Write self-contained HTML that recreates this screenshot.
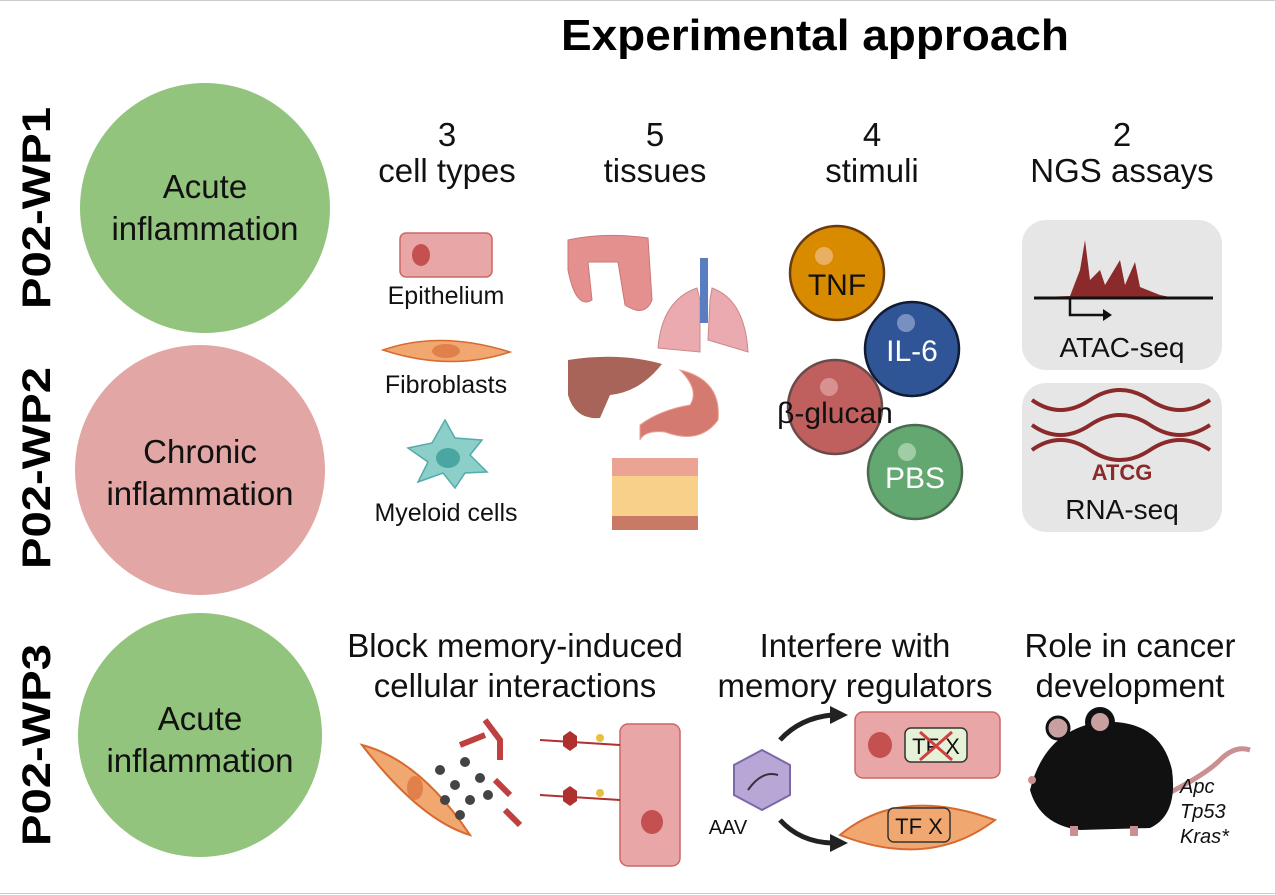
<!DOCTYPE html>
<html><head><meta charset="utf-8"><style>
html,body{margin:0;padding:0;background:#fff;}
svg{display:block;font-family:"Liberation Sans",sans-serif;}
</style></head><body>
<svg width="1275" height="895" viewBox="0 0 1275 895" xmlns="http://www.w3.org/2000/svg">
<line x1="0" y1="0.5" x2="1275" y2="0.5" stroke="#ccc"/>
<line x1="0" y1="893.5" x2="1275" y2="893.5" stroke="#ccc"/>
<text x="815" y="50" font-size="44" font-weight="bold" text-anchor="middle" fill="#000" textLength="508" lengthAdjust="spacingAndGlyphs">Experimental approach</text>
<g font-size="40" font-weight="bold" text-anchor="middle" fill="#000">
<text transform="translate(50,208) rotate(-90)" textLength="202" lengthAdjust="spacingAndGlyphs">P02-WP1</text>
<text transform="translate(50,468) rotate(-90)" textLength="202" lengthAdjust="spacingAndGlyphs">P02-WP2</text>
<text transform="translate(50,745) rotate(-90)" textLength="202" lengthAdjust="spacingAndGlyphs">P02-WP3</text>
</g>
<circle cx="205" cy="208" r="125" fill="#93c47d"/>
<circle cx="200" cy="470" r="125" fill="#e2a6a4"/>
<circle cx="200" cy="735" r="122" fill="#93c47d"/>
<g font-size="33" text-anchor="middle" fill="#111">
<text x="205" y="198">Acute</text><text x="205" y="240">inflammation</text>
<text x="200" y="463">Chronic</text><text x="200" y="505">inflammation</text>
<text x="200" y="730">Acute</text><text x="200" y="772">inflammation</text>
</g>
<g font-size="33" text-anchor="middle" fill="#111">
<text x="447" y="146">3</text><text x="447" y="182">cell types</text>
<text x="655" y="146">5</text><text x="655" y="182">tissues</text>
<text x="872" y="146">4</text><text x="872" y="182">stimuli</text>
<text x="1122" y="146">2</text><text x="1122" y="182">NGS assays</text>
<text x="515" y="657">Block memory-induced</text><text x="515" y="697">cellular interactions</text>
<text x="855" y="657">Interfere with</text><text x="855" y="697">memory regulators</text>
<text x="1130" y="657">Role in cancer</text><text x="1130" y="697">development</text>
</g>
<!-- cells -->
<rect x="400" y="233" width="92" height="44" rx="6" fill="#e8a6a6" stroke="#c66" stroke-width="1.5"/>
<ellipse cx="421" cy="255" rx="9" ry="11" fill="#c55050"/>
<path d="M383 350 Q440 330 510 352 Q450 372 383 350Z" fill="#f0a870" stroke="#d86a30" stroke-width="1.5"/>
<ellipse cx="446" cy="351" rx="14" ry="7" fill="#e0804a"/>
<g fill="#8ccfc8" stroke="#5aa" stroke-width="1.5">
<path d="M445 420 L455 438 L482 440 L470 455 L487 472 L465 473 L455 488 L443 473 L418 482 L428 462 L408 448 L432 443Z"/>
</g>
<ellipse cx="448" cy="458" rx="12" ry="10" fill="#4aa6a0"/>
<g font-size="25" text-anchor="middle" fill="#111">
<text x="446" y="304">Epithelium</text>
<text x="446" y="393">Fibroblasts</text>
<text x="446" y="521">Myeloid cells</text>
</g>
<!-- organs -->
<path d="M568 240 Q605 232 648 238 L652 300 Q645 318 625 305 L618 262 L588 262 L592 300 Q576 310 568 270Z" fill="#e3908e" stroke="#c77"/>
<path d="M697 288 Q662 300 658 348 L700 352 L700 300Z M712 288 Q745 300 748 352 L708 340 L710 300Z" fill="#eaaab0" stroke="#c88"/>
<rect x="700" y="258" width="8" height="65" fill="#5a7cc0"/>
<path d="M568 360 Q620 352 662 364 Q640 392 610 395 L600 418 Q575 420 568 395Z" fill="#a86458"/>
<path d="M680 370 Q722 380 718 420 Q700 445 665 432 Q645 430 640 440 L640 425 Q660 410 690 405 Q700 390 680 370Z" fill="#d57a70" stroke="#e8a090"/>
<rect x="612" y="458" width="86" height="18" fill="#eba494"/>
<rect x="612" y="476" width="86" height="40" fill="#f9d08a"/>
<rect x="612" y="516" width="86" height="14" fill="#c87a66"/>
<!-- stimuli -->
<circle cx="837" cy="273" r="47" fill="#d98b00" stroke="#6b3a10" stroke-width="2.5"/>
<circle cx="824" cy="256" r="9" fill="#e8b060"/>
<circle cx="912" cy="349" r="47" fill="#2f5597" stroke="#111b33" stroke-width="2.5"/>
<circle cx="906" cy="323" r="9" fill="#7890c0"/>
<circle cx="835" cy="407" r="47" fill="#c0605e" stroke="#6b4a4a" stroke-width="2.5"/>
<circle cx="829" cy="387" r="9" fill="#d89090"/>
<circle cx="915" cy="472" r="47" fill="#63a870" stroke="#4a6a50" stroke-width="2.5"/>
<circle cx="907" cy="452" r="9" fill="#a0cca6"/>
<g font-size="30" text-anchor="middle">
<text x="837" y="295" fill="#111">TNF</text>
<text x="912" y="361" fill="#fff">IL-6</text>
<text x="835" y="423" fill="#111">β-glucan</text>
<text x="915" y="488" fill="#fff">PBS</text>
</g>
<!-- NGS -->
<rect x="1022" y="220" width="200" height="150" rx="24" fill="#e6e6e6"/>
<rect x="1022" y="383" width="200" height="149" rx="24" fill="#e6e6e6"/>
<path d="M1040 297 L1070 296 L1080 270 L1085 240 L1090 280 L1100 270 L1105 285 L1120 260 L1125 285 L1135 262 L1140 287 L1160 295 L1170 297Z" fill="#8b2a2a"/>
<line x1="1034" y1="298" x2="1213" y2="298" stroke="#111" stroke-width="3"/>
<path d="M1070 298 L1070 315 L1105 315" fill="none" stroke="#111" stroke-width="2.5"/>
<path d="M1103 309 L1112 315 L1103 321Z" fill="#111"/>
<g fill="none" stroke="#8b2a2a" stroke-width="4">
<path d="M1032 400 Q1060 420 1090 400 Q1120 380 1150 400 Q1180 420 1210 400"/>
<path d="M1032 425 Q1060 445 1090 425 Q1120 405 1150 425 Q1180 445 1210 425"/>
<path d="M1032 450 Q1060 430 1090 450 Q1120 470 1150 450 Q1180 430 1210 450"/>
</g>
<text x="1122" y="480" font-size="22" font-weight="bold" text-anchor="middle" fill="#8b2a2a">ATCG</text>
<g font-size="28" text-anchor="middle" fill="#111">
<text x="1122" y="357">ATAC-seq</text>
<text x="1122" y="519">RNA-seq</text>
</g>
<!-- WP3 illustrations -->
<path d="M362 745 Q420 760 470 835 Q420 820 362 745Z" fill="#f0a870" stroke="#d86a30" stroke-width="2"/>
<ellipse cx="415" cy="788" rx="8" ry="12" fill="#e0804a"/>
<g fill="#444"><circle cx="440" cy="770" r="5"/><circle cx="465" cy="762" r="5"/><circle cx="455" cy="785" r="5"/><circle cx="480" cy="778" r="5"/><circle cx="445" cy="800" r="5"/><circle cx="470" cy="800" r="5"/><circle cx="460" cy="815" r="5"/><circle cx="488" cy="795" r="5"/></g>
<g stroke="#c04040" stroke-width="6" fill="none"><path d="M460 745 L485 735 M485 720 L500 740 L500 760"/><path d="M495 780 L510 795 M505 810 L520 825"/></g>
<rect x="620" y="724" width="60" height="142" rx="8" fill="#e8a6a6" stroke="#c66" stroke-width="1.5"/>
<ellipse cx="652" cy="822" rx="11" ry="12" fill="#c55050"/>
<g fill="#b03030"><path d="M563 736 l7 -5 l7 5 v10 l-7 5 l-7 -5Z"/><path d="M563 791 l7 -5 l7 5 v10 l-7 5 l-7 -5Z"/></g>
<g fill="#e8c040"><circle cx="600" cy="738" r="4"/><circle cx="600" cy="793" r="4"/></g>
<g stroke="#b03030" stroke-width="2"><line x1="540" y1="740" x2="620" y2="745"/><line x1="540" y1="795" x2="620" y2="800"/></g>
<path d="M762 750 L790 765 L790 795 L762 810 L734 795 L734 765Z" fill="#b7a6d6" stroke="#7a68a8" stroke-width="2"/>
<path d="M748 790 Q762 770 778 775" stroke="#333" stroke-width="2" fill="none"/>
<text x="728" y="834" font-size="20" text-anchor="middle" fill="#111">AAV</text>
<path d="M780 740 Q800 718 832 715" fill="none" stroke="#222" stroke-width="5"/>
<path d="M830 706 L848 715 L830 724Z" fill="#222"/>
<path d="M780 820 Q800 842 832 843" fill="none" stroke="#222" stroke-width="5"/>
<path d="M830 834 L848 843 L830 852Z" fill="#222"/>
<rect x="855" y="712" width="145" height="66" rx="8" fill="#e8a6a6" stroke="#c66" stroke-width="1.5"/>
<ellipse cx="880" cy="745" rx="12" ry="13" fill="#c55050"/>
<rect x="905" y="728" width="62" height="34" rx="6" fill="#e6f2d8" stroke="#333" stroke-width="1.5"/>
<text x="936" y="754" font-size="22" text-anchor="middle" fill="#111">TF X</text>
<path d="M920 732 L952 760 M952 732 L920 760" stroke="#d04040" stroke-width="3"/>
<path d="M840 835 Q900 785 995 820 Q930 870 840 835Z" fill="#f0a870" stroke="#d86a30" stroke-width="2"/>
<rect x="888" y="808" width="62" height="34" rx="6" fill="#f0a870" stroke="#333" stroke-width="1.5"/>
<text x="919" y="834" font-size="22" text-anchor="middle" fill="#111">TF X</text>
<!-- mouse -->
<path d="M1165 795 Q1205 775 1220 760 Q1235 745 1250 750" fill="none" stroke="#c89090" stroke-width="5"/>
<path d="M1030 790 Q1045 730 1100 722 Q1160 718 1172 770 Q1178 815 1150 828 L1080 830 Q1040 825 1030 790Z" fill="#111"/>
<circle cx="1058" cy="728" r="11" fill="#c8a0a0" stroke="#111" stroke-width="3"/>
<circle cx="1100" cy="722" r="15" fill="#111"/><circle cx="1100" cy="722" r="9" fill="#c8a0a0"/>
<g fill="#c89090"><rect x="1070" y="826" width="8" height="10"/><rect x="1130" y="826" width="8" height="10"/><circle cx="1032" cy="780" r="4"/></g>
<g font-size="20" font-style="italic" fill="#111">
<text x="1180" y="793">Apc</text><text x="1180" y="818">Tp53</text><text x="1180" y="843">Kras*</text>
</g>
</svg>
</body></html>
